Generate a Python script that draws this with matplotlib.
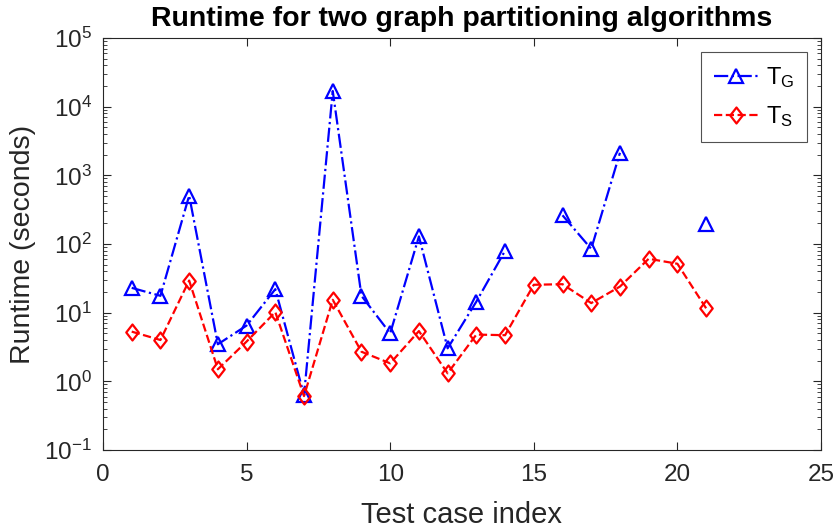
import numpy as np
import matplotlib
matplotlib.use("Agg")
import matplotlib.pyplot as plt
from matplotlib.path import Path
from matplotlib.ticker import LogLocator, MultipleLocator

plt.rcParams['font.family'] = ['Liberation Sans', 'DejaVu Sans']
plt.rcParams['mathtext.fontset'] = 'custom'
plt.rcParams['mathtext.rm'] = 'Liberation Sans'
plt.rcParams['mathtext.default'] = 'regular'
plt.rcParams['axes.unicode_minus'] = False

# test case indices and runtimes (seconds); nan = no result for that case
case_idx = np.arange(1, 22)
t_g = [23, 17.6, 507, 3.47, 6.5, 22, 0.63, 16900, 17.6, 5.0, 129, 3.03,
       14.5, 80, np.nan, 262, 85, 2130, np.nan, np.nan, 193]
t_s = [5.3, 4.0, 29.4, 1.5, 3.8, 10.2, 0.61, 15.4, 2.7, 1.83, 5.4, 1.31,
       4.8, 4.7, 25.5, 26, 13.8, 24, 61, 51.6, 11.6]

axis_gray = '#262626'

# slightly tall diamond marker
diamond = Path([(0, 1), (0.78, 0), (0, -1), (-0.78, 0), (0, 1)],
               [Path.MOVETO, Path.LINETO, Path.LINETO, Path.LINETO, Path.CLOSEPOLY])

fig = plt.figure(figsize=(8.38, 5.31), dpi=100)
ax = fig.add_axes([0.1229, 0.1525, 0.8568, 0.7759])

ax.plot(case_idx, t_g, color='#0000ff', linestyle='-.', linewidth=1.6,
        marker='^', markersize=10, markerfacecolor='none', markeredgewidth=1.6,
        label=r'$T_G$')
ax.plot(case_idx, t_s, color='#ff0000', linestyle='--', linewidth=1.6,
        marker=diamond, markersize=11.5, markerfacecolor='none', markeredgewidth=1.6,
        label=r'$T_S$')

ax.set_yscale('log')
ax.set_xlim(0, 25)
ax.set_ylim(1e-1, 1e5)
ax.xaxis.set_major_locator(MultipleLocator(5))
ax.yaxis.set_major_locator(LogLocator(base=10, numticks=10))
ax.yaxis.set_minor_locator(LogLocator(base=10, subs=np.arange(2, 10), numticks=10))

ax.tick_params(which='both', direction='in', top=True, right=True,
               colors=axis_gray, labelsize=17.5)
ax.tick_params(which='major', length=6, width=0.8)
ax.tick_params(which='minor', length=3, width=0.6)
ax.tick_params(axis='x', pad=10)
ax.tick_params(axis='y', pad=8)
for sp in ax.spines.values():
    sp.set_color(axis_gray)
    sp.set_linewidth(0.8)

ax.set_xlabel('Test case index', fontsize=21, color=axis_gray, labelpad=11)
ax.set_ylabel('Runtime (seconds)', fontsize=20.5, color=axis_gray, labelpad=6)
ax.set_title('Runtime for two graph partitioning algorithms', fontsize=20.5,
             fontweight='bold', pad=9)

leg = ax.legend(loc='upper right', fontsize=17, frameon=True, fancybox=False,
                handlelength=1.9, borderpad=0.55, labelspacing=0.6,
                handletextpad=0.3, borderaxespad=0.6)
leg.get_frame().set_edgecolor(axis_gray)
leg.get_frame().set_linewidth(0.8)

fig.savefig('out.png', dpi=100)
